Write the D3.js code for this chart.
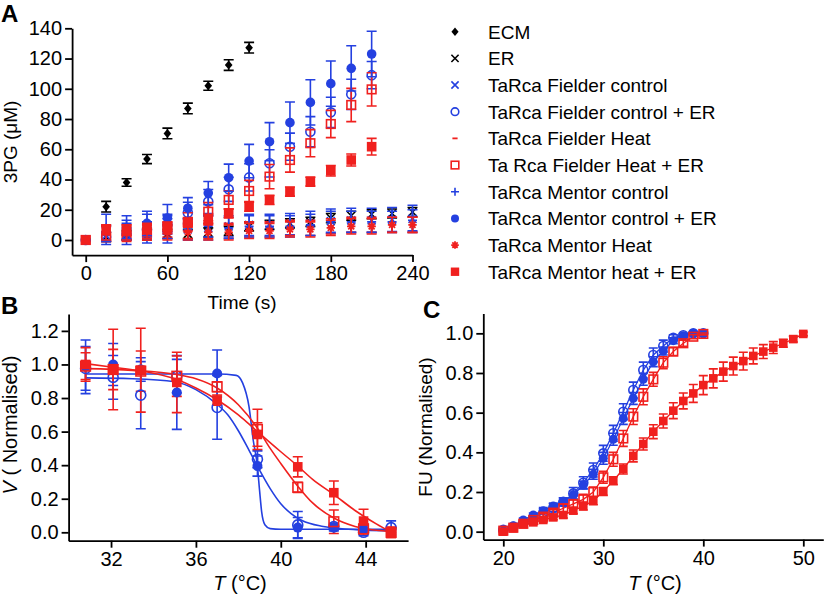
<!DOCTYPE html>
<html><head><meta charset="utf-8">
<script src="https://cdn.jsdelivr.net/npm/d3@7"></script>
<style>body{margin:0;background:#fff} svg text{font-family:"Liberation Sans",Arial,Helvetica,sans-serif;fill:#000}</style>
</head><body><script>
const BLUE = "#2440e0", RED = "#f0201e", BLACK = "#000000";

// ---------- Panel A data (3PG vs time) ----------
const timeA   = [0,15,30,45,60,75,90,105,120,135,150,165,180,195,210,225,240];
const timeECM = [15,30,45,60,75,90,105,120];
const timeER  = [0,15,30,45,60,75,90,105,120,135,150,165,180,195,210];

const ecm    = [22,38,53.5,70.5,87,102,115.7,127.2];
const ecmErr = [3.5,2.5,3,3.5,3.5,3,3.5,3.5];

const er     = [0,2,3,3,4,4,5,6,9,10,11,12,14.5,16,17,17.5,18.5];
const erErr  = [0,3,3,3,3,3,3,3,3,3,3,3,3,3,3,3,3];

const fielderCtl    = [0,3,4,5,6,7,8,9,10,10,10.5,11,12.5,13,13,13.5,14];
const fielderCtlErr = [0,6,7,7,8,7,8,7,7,7,7,8,8,8,8,8,9];

const fielderCtlER    = [0,2,4,7,10,18,25.4,33.5,41.4,50.7,61.7,71.6,84.4,96.3,109];
const fielderCtlERErr = [0,3,4,5,6,7,8,8,9,9,9,10,10,10,9];

const fielderHeat    = [0,4,5,5,6,6,6,6,7,7,8,8,9,10,10,10,10];
const fielderHeatErr = [0,5,5,5,5,5,5,5,5,5,5,5,5,5,5,5,5];

const fielderHeatER    = [0,2,3,5,7,12,18.7,26.5,32.4,41.9,52.9,64,76.7,89.3,99.6];
const fielderHeatERErr = [0,3,4,5,5,6,6,6,7,8,8,9,9,11,11];

const mentorCtl    = [0,8,8,9,9,7,9,8,9,9,9,10,12,12,12,12,13];
const mentorCtlErr = [0,9,8,8,8,7,7,7,7,7,7,7,7,7,7,7,7];

const mentorCtlER    = [0,5,7,11,14.5,21,31,41.2,52.2,65,77.6,91,103.4,113.5,123];
const mentorCtlERErr = [0,5,6,8,9,7,7.7,9,11,12.6,13.7,15,15,15,15];

const mentorHeat    = [0,5,5,6,5,5,5,5,6,6,7,7,8,9,9,10,10];
const mentorHeatErr = [0,5,5,5,5,5,5,5,5,5,5,5,5,5,5,5,5];

const mentorHeatER    = [0,6.5,6,7,8.8,11.5,14,17.6,22,26.5,32,38.6,45.8,52.9,61.7];
const mentorHeatERErr = [0,3,3,3,3,3,3,3,3,3,3,3,3.5,4,5.5];

const legendLabels = ["ECM","ER","TaRca Fielder control","TaRca Fielder control + ER","TaRca Fielder Heat",
  "Ta Rca Fielder Heat + ER","TaRca Mentor control","TaRca Mentor control + ER","TaRca Mentor Heat","TaRca Mentor heat + ER"];
const ticksAx = [0,60,120,180,240];
const ticksAy = [0,20,40,60,80,100,120,140];

// ---------- Panel B data (activity vs T) ----------
const tempB = [30.8,32.1,33.4,35.1,37.0,38.9,40.8,42.5,43.9,45.2];
const bFielderCtl    = [0.976,0.923,0.817,0.93,0.744,0.435,0.044,0.034,0.0,0.028];
const bFielderCtlErr = [0.13,0.13,0.2,0.1,0.19,0.05,0.08,0.02,0.02,0.04];
const bMentorCtl     = [0.986,1.0,0.97,0.833,0.946,0.395,0.028,0.028,0.02,0.0];
const bMentorCtlErr  = [0.16,0.125,0.07,0.22,0.14,0.06,0.06,0.02,0.02,0.02];
const bFielderHeat    = [0.99,0.97,0.96,0.93,0.867,0.613,0.268,0.063,0.02,0.0];
const bFielderHeatErr = [0.08,0.12,0.12,0.12,0.03,0.12,0.03,0.07,0.03,0.03];
const bMentorHeat     = [1.0,0.97,0.966,0.893,0.788,0.583,0.39,0.236,0.067,0.0];
const bMentorHeatErr  = [0.1,0.24,0.25,0.18,0.03,0.07,0.06,0.07,0.07,0.03];
// fitted curves
const fitMentorCtlT = [30.8,33,35,37,37.9,38.2,38.5,38.7,38.9,39.0,39.1,39.25,39.5,40,42,45.2];
const fitMentorCtlV = [0.943,0.943,0.943,0.943,0.935,0.89,0.75,0.55,0.39,0.25,0.12,0.045,0.022,0.018,0.018,0.018];
const fitFielderCtlT = [30.8,33,35,36,37,37.5,38,38.5,39,39.5,40,40.5,41,42,43,44,45.2];
const fitFielderCtlV = [0.92,0.915,0.897,0.85,0.762,0.70,0.605,0.49,0.37,0.26,0.17,0.11,0.07,0.035,0.02,0.013,0.01];
const fitMentorHeatT = [30.8,32,33.4,35.1,36,37,38,38.9,40,40.8,41.5,42.5,43.5,44.5,45.2];
const fitMentorHeatV = [1.005,0.985,0.962,0.91,0.86,0.79,0.70,0.60,0.48,0.395,0.315,0.225,0.13,0.05,0.0];
const fitFielderHeatT = [30.8,33,35.1,36,37,38,38.9,39.5,40,40.8,41.5,42.5,43.5,44.5,45.2];
const fitFielderHeatV = [0.975,0.965,0.94,0.915,0.86,0.76,0.62,0.5,0.41,0.275,0.175,0.085,0.035,0.012,0.005];
const ticksBx = [32,36,40,44];
const ticksBy = [0,0.2,0.4,0.6,0.8,1.0,1.2];

// ---------- Panel C data (FU vs T) ----------
const tempC  = [20,21,22,23,24,25,26,27,28,29,30,31,32,33,34,35,36,37,38,39,40];
const tempC2 = [20,21,22,23,24,25,26,27,28,29,30,31,32,33,34,35,36,37,38,39,40,41,42,43,44,45,46,47,48,49,50];
const cFielderCtl    = [0.01,0.025,0.045,0.07,0.095,0.12,0.15,0.193,0.247,0.311,0.395,0.496,0.605,0.714,0.815,0.891,0.936,0.978,0.99,1.0,1.0];
const cFielderCtlErr = [0.005,0.01,0.01,0.015,0.02,0.02,0.02,0.03,0.03,0.035,0.04,0.04,0.04,0.04,0.04,0.035,0.03,0.015,0.01,0.005,0.005];
const cMentorCtl     = [0.005,0.03,0.059,0.084,0.106,0.129,0.151,0.185,0.235,0.289,0.37,0.466,0.571,0.672,0.768,0.857,0.911,0.963,0.988,1.0,1.0];
const cMentorCtlErr  = [0.005,0.01,0.01,0.01,0.015,0.015,0.02,0.02,0.02,0.025,0.03,0.03,0.03,0.03,0.03,0.025,0.02,0.015,0.01,0.005,0.005];
const cFielderHeat    = [0.005,0.02,0.04,0.059,0.076,0.096,0.118,0.14,0.163,0.2,0.274,0.365,0.47,0.58,0.68,0.768,0.852,0.908,0.95,0.983,0.997];
const cFielderHeatErr = [0.005,0.01,0.01,0.01,0.015,0.015,0.02,0.02,0.025,0.025,0.03,0.035,0.04,0.04,0.04,0.035,0.03,0.02,0.015,0.01,0.005];
const cMentorHeat    = [0,0.017,0.037,0.047,0.059,0.072,0.084,0.106,0.129,0.156,0.203,0.257,0.316,0.382,0.442,0.504,0.558,0.61,0.659,0.697,0.739,0.773,0.807,0.835,0.86,0.886,0.908,0.928,0.95,0.971,0.997];
const cMentorHeatErr = [0.005,0.01,0.01,0.01,0.01,0.012,0.015,0.015,0.02,0.02,0.02,0.02,0.025,0.03,0.03,0.035,0.035,0.04,0.04,0.045,0.048,0.048,0.048,0.045,0.045,0.04,0.035,0.03,0.02,0.015,0.01];
const ticksCx = [20,30,40,50];
const ticksCy = [0,0.2,0.4,0.6,0.8,1.0];

// ---------- helpers ----------
const W = 825, H = 602;
const svg = d3.select("body").append("svg").attr("width", W).attr("height", H);
const FONT = '"Liberation Sans",Arial,Helvetica,sans-serif';

function marker(g, type, x, y, color, s) {
  const sw = 1.6;
  switch (type) {
    case "diamond":
      g.append("path").attr("d", `M${x},${y-s}L${x+s*0.85},${y}L${x},${y+s}L${x-s*0.85},${y}Z`).attr("fill", color); break;
    case "x":
      g.append("path").attr("d", `M${x-s},${y-s}L${x+s},${y+s}M${x-s},${y+s}L${x+s},${y-s}`).attr("stroke", color).attr("stroke-width", sw).attr("fill","none"); break;
    case "plus":
      g.append("path").attr("d", `M${x-s},${y}L${x+s},${y}M${x},${y-s}L${x},${y+s}`).attr("stroke", color).attr("stroke-width", sw).attr("fill","none"); break;
    case "asterisk": {
      let d = "";
      for (let k = 0; k < 4; k++) { const a = k*Math.PI/4; d += `M${x-s*Math.cos(a)},${y-s*Math.sin(a)}L${x+s*Math.cos(a)},${y+s*Math.sin(a)}`; }
      g.append("path").attr("d", d).attr("stroke", color).attr("stroke-width", 1.8).attr("fill","none"); break; }
    case "dash":
      g.append("path").attr("d", `M${x-s},${y}L${x+s},${y}`).attr("stroke", color).attr("stroke-width", 1.8); break;
    case "circleOpen":
      g.append("circle").attr("cx", x).attr("cy", y).attr("r", s).attr("fill", "none").attr("stroke", color).attr("stroke-width", sw); break;
    case "circleFilled":
      g.append("circle").attr("cx", x).attr("cy", y).attr("r", s).attr("fill", color); break;
    case "squareOpen":
      g.append("rect").attr("x", x-s).attr("y", y-s).attr("width", 2*s).attr("height", 2*s).attr("fill", "none").attr("stroke", color).attr("stroke-width", sw); break;
    case "squareFilled":
      g.append("rect").attr("x", x-s).attr("y", y-s).attr("width", 2*s).attr("height", 2*s).attr("fill", color); break;
  }
}
function errBar(g, x, y0, y1, color, cap) {
  g.append("path").attr("d", `M${x},${y0}L${x},${y1}M${x-cap},${y0}L${x+cap},${y0}M${x-cap},${y1}L${x+cap},${y1}`)
    .attr("stroke", color).attr("stroke-width", 1.6).attr("fill", "none");
}
function styleAxis(g, fs) {
  g.attr("font-family", FONT).attr("font-size", fs);
  g.select(".domain").attr("stroke-width", 1.8).attr("stroke", "#000");
  g.selectAll(".tick line").attr("stroke-width", 1.8).attr("stroke", "#000");
  g.selectAll(".tick text").attr("fill", "#000");
}
const markerSize = {diamond:4.5, x:4, plus:4.5, asterisk:4.2, dash:3, circleOpen:4.5, circleFilled:4.8, squareOpen:4.3, squareFilled:4.8};

// ---------- Panel A ----------
const xA = d3.scaleLinear().domain([-10, 240]).range([72.1, 412.5]);
const yA = d3.scaleLinear().domain([-10, 140]).range([255.1, 28.3]);
const gA = svg.append("g");
const axAx = gA.append("g").attr("transform", `translate(0,${yA(-10)})`)
  .call(d3.axisBottom(xA).tickValues(ticksAx).tickSize(7).tickSizeOuter(0).tickPadding(4));
styleAxis(axAx, 20);
const axAy = gA.append("g").attr("transform", `translate(${xA(-10)},0)`)
  .call(d3.axisLeft(yA).tickValues(ticksAy).tickSize(7).tickSizeOuter(0).tickPadding(3));
styleAxis(axAy, 20);

const seriesA = [
  {t: timeECM, v: ecm, e: ecmErr, type: "diamond", color: BLACK},
  {t: timeA, v: er, e: erErr, type: "x", color: BLACK},
  {t: timeA, v: fielderCtl, e: fielderCtlErr, type: "x", color: BLUE},
  {t: timeER, v: fielderCtlER, e: fielderCtlERErr, type: "circleOpen", color: BLUE},
  {t: timeA, v: fielderHeat, e: fielderHeatErr, type: "dash", color: RED},
  {t: timeER, v: fielderHeatER, e: fielderHeatERErr, type: "squareOpen", color: RED},
  {t: timeA, v: mentorCtl, e: mentorCtlErr, type: "plus", color: BLUE},
  {t: timeER, v: mentorCtlER, e: mentorCtlERErr, type: "circleFilled", color: BLUE},
  {t: timeA, v: mentorHeat, e: mentorHeatErr, type: "asterisk", color: RED},
  {t: timeER, v: mentorHeatER, e: mentorHeatERErr, type: "squareFilled", color: RED}
];
seriesA.forEach(s => {
  const g = gA.append("g");
  s.t.forEach((t, i) => {
    if (s.e[i] > 0) errBar(g, xA(t), yA(s.v[i] + s.e[i]), yA(s.v[i] - s.e[i]), s.color, 5);
    marker(g, s.type, xA(t), yA(s.v[i]), s.color, markerSize[s.type]);
  });
});
gA.append("text").attr("x", 242).attr("y", 309).attr("text-anchor", "middle").attr("font-size", 19).text("Time (s)");
gA.append("text").attr("transform", "translate(17,142) rotate(-90)").attr("text-anchor", "middle").attr("font-size", 19).text("3PG (μM)");
svg.append("text").attr("x", 1).attr("y", 22).attr("font-size", 24).attr("font-weight", "bold").text("A");

// legend
const lg = svg.append("g");
legendLabels.forEach((lab, i) => {
  const cy = 31.7 + i * 26.67;
  const s = seriesA[i];
  const ls = {diamond:4.2, x:3.6, plus:4, asterisk:3.8, dash:2.6, circleOpen:3.8, circleFilled:4, squareOpen:3.8, squareFilled:4.2}[s.type];
  marker(lg, s.type, 455, cy, s.color, ls);
  lg.append("text").attr("x", 488).attr("y", cy + 6.8).attr("font-size", 19).text(lab);
});

// ---------- Panel B ----------
const xB = d3.scaleLinear().domain([30, 46]).range([68.6, 408.1]);
const yB = d3.scaleLinear().domain([-0.05, 1.3]).range([540.7, 314.1]);
const gB = svg.append("g");
const axBx = gB.append("g").attr("transform", `translate(0,${yB(-0.05)})`)
  .call(d3.axisBottom(xB).tickValues(ticksBx).tickSize(7).tickSizeOuter(0).tickPadding(4));
styleAxis(axBx, 20);
const axBy = gB.append("g").attr("transform", `translate(${xB(30)},0)`)
  .call(d3.axisLeft(yB).tickValues(ticksBy).tickSize(7).tickSizeOuter(0).tickPadding(3).tickFormat(d3.format(".1f")));
styleAxis(axBy, 20);

const lineB = d3.line().x(d => xB(d[0])).y(d => yB(d[1])).curve(d3.curveMonotoneX);
[[fitMentorCtlT, fitMentorCtlV, BLUE], [fitFielderCtlT, fitFielderCtlV, BLUE],
 [fitMentorHeatT, fitMentorHeatV, RED], [fitFielderHeatT, fitFielderHeatV, RED]].forEach(([T, V, c]) => {
  gB.append("path").datum(T.map((t, i) => [t, V[i]])).attr("d", lineB).attr("fill", "none").attr("stroke", c).attr("stroke-width", 1.6);
});
const seriesB = [
  {v: bFielderCtl, e: bFielderCtlErr, type: "circleOpen", color: BLUE},
  {v: bMentorCtl, e: bMentorCtlErr, type: "circleFilled", color: BLUE},
  {v: bFielderHeat, e: bFielderHeatErr, type: "squareOpen", color: RED},
  {v: bMentorHeat, e: bMentorHeatErr, type: "squareFilled", color: RED}
];
seriesB.forEach(s => {
  const g = gB.append("g");
  tempB.forEach((t, i) => errBar(g, xB(t), yB(s.v[i] + s.e[i]), yB(s.v[i] - s.e[i]), s.color, 5));
});
seriesB.forEach(s => {
  const g = gB.append("g");
  tempB.forEach((t, i) => marker(g, s.type, xB(t), yB(s.v[i]), s.color, s.type.startsWith("circle") ? 5 : 4.8));
});
const tB = gB.append("text").attr("x", 240).attr("y", 590).attr("text-anchor", "middle").attr("font-size", 20);
tB.append("tspan").attr("font-style", "italic").text("T");
tB.append("tspan").text(" (°C)");
const vB = gB.append("text").attr("transform", "translate(17,425) rotate(-90)").attr("text-anchor", "middle").attr("font-size", 20);
vB.append("tspan").attr("font-style", "italic").text("V");
vB.append("tspan").text(" ( Normalised)");
svg.append("text").attr("x", 1).attr("y", 314).attr("font-size", 24).attr("font-weight", "bold").text("B");

// ---------- Panel C ----------
const xC = d3.scaleLinear().domain([18, 52]).range([483.3, 823.3]);
const yC = d3.scaleLinear().domain([-0.04, 1.1]).range([539.6, 313.5]);
const gC = svg.append("g");
const axCx = gC.append("g").attr("transform", `translate(0,${yC(-0.04)})`)
  .call(d3.axisBottom(xC).tickValues(ticksCx).tickSize(7).tickSizeOuter(0).tickPadding(4));
styleAxis(axCx, 20);
const axCy = gC.append("g").attr("transform", `translate(${xC(18)},0)`)
  .call(d3.axisLeft(yC).tickValues(ticksCy).tickSize(7).tickSizeOuter(0).tickPadding(3).tickFormat(d3.format(".1f")));
styleAxis(axCy, 20);

const seriesC = [
  {t: tempC, v: cFielderCtl, e: cFielderCtlErr, type: "circleOpen", color: BLUE},
  {t: tempC, v: cMentorCtl, e: cMentorCtlErr, type: "circleFilled", color: BLUE},
  {t: tempC, v: cFielderHeat, e: cFielderHeatErr, type: "squareOpen", color: RED},
  {t: tempC2, v: cMentorHeat, e: cMentorHeatErr, type: "squareFilled", color: RED}
];
const lineC = d3.line().x(d => xC(d[0])).y(d => yC(d[1]));
seriesC.forEach(s => {
  gC.append("path").datum(s.t.map((t, i) => [t, s.v[i]])).attr("d", lineC).attr("fill", "none").attr("stroke", s.color).attr("stroke-width", 1.3);
});
seriesC.forEach(s => {
  const g = gC.append("g");
  s.t.forEach((t, i) => {
    errBar(g, xC(t), yC(s.v[i] + s.e[i]), yC(s.v[i] - s.e[i]), s.color, 4.5);
    marker(g, s.type, xC(t), yC(s.v[i]), s.color, s.type.startsWith("circle") ? 4.5 : 4.3);
  });
});
const tC = gC.append("text").attr("x", 655).attr("y", 590).attr("text-anchor", "middle").attr("font-size", 20);
tC.append("tspan").attr("font-style", "italic").text("T");
tC.append("tspan").text(" (°C)");
gC.append("text").attr("transform", "translate(432,427) rotate(-90)").attr("text-anchor", "middle").attr("font-size", 19).text("FU (Normalised)");
svg.append("text").attr("x", 423).attr("y", 318).attr("font-size", 24).attr("font-weight", "bold").text("C");
</script></body></html>
